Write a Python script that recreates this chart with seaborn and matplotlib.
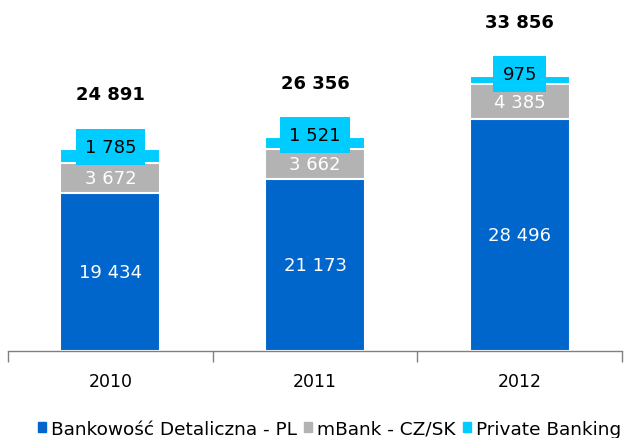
import numpy as np
import pandas as pd
import matplotlib
matplotlib.use('Agg')
import matplotlib.pyplot as plt
import seaborn as sns

# Data (mln zł)
years = ['2010', '2011', '2012']
retail_pl = [19434, 21173, 28496]
mbank_czsk = [3672, 3662, 4385]
private_banking = [1785, 1521, 975]

series_names = ['Bankowość Detaliczna - PL', 'mBank - CZ/SK', 'Private Banking']
colors = ['#0066CC', '#B3B3B3', '#00CCFF']

df = pd.DataFrame({'year': years, 'retail': retail_pl,
                   'mbank': mbank_czsk, 'pb': private_banking})
df['lvl1'] = df['retail']
df['lvl2'] = df['retail'] + df['mbank']
df['total'] = df['lvl2'] + df['pb']

sns.set_style('white')
plt.rcParams['font.family'] = ['DejaVu Sans']
plt.rcParams['text.color'] = 'black'
plt.rcParams['xtick.labelcolor'] = 'black'

fig = plt.figure(figsize=(6.28, 4.39), dpi=100)
ax = fig.add_axes([8 / 628, 87 / 439, 614 / 628, 352 / 439])

# stacked bars drawn back to front
for col, c in zip(['total', 'lvl2', 'lvl1'], colors[::-1]):
    sns.barplot(data=df, x='year', y=col, color=c, width=0.49,
                edgecolor='white', linewidth=1.5, saturation=1, ax=ax)

ax.set_xlim(-0.5, 2.5)
ax.set_ylim(0, 43300)
ax.set_xlabel('')
ax.set_ylabel('')
ax.set_yticks([])

for s in ['top', 'right', 'left']:
    ax.spines[s].set_visible(False)
ax.spines['bottom'].set_color('#808080')
ax.spines['bottom'].set_linewidth(1)

ax.set_xticks([-0.5, 0.5, 1.5, 2.5])
ax.set_xticklabels([])
ax.set_xticks([0, 1, 2], minor=True)
ax.set_xticklabels(years, minor=True, fontsize=12.5)
ax.tick_params(axis='x', which='major', bottom=True, direction='out',
               length=8, color='#808080', width=1)
ax.tick_params(axis='x', which='minor', bottom=True, length=0, pad=15,
               labelcolor='black')

for i in range(len(years)):
    r, m, p, t = retail_pl[i], mbank_czsk[i], private_banking[i], df['total'][i]
    ax.text(i, r / 2, f'{r:,}'.replace(',', ' '), ha='center', va='center',
            color='white', fontsize=13)
    ax.text(i, r + m / 2, f'{m:,}'.replace(',', ' '), ha='center', va='center',
            color='white', fontsize=13)
    ax.annotate(f'{p:,}'.replace(',', ' '), (i, t), xytext=(0, 1),
                textcoords='offset points', ha='center', va='center',
                color='black', fontsize=13,
                bbox=dict(boxstyle='square,pad=0.5', fc=colors[2], ec='none'))
    ax.annotate(f'{t:,}'.replace(',', ' '), (i, t), xytext=(0, 39),
                textcoords='offset points', ha='center', va='center',
                color='black', fontsize=13, fontweight='bold')

# unit label, cut off at the top like in the original
fig.text(17 / 628, 1.0 + 12 / 439, 'mln zł', ha='left', va='bottom',
         fontsize=13, fontweight='bold')

handles = [plt.Rectangle((0, 0), 1, 1, color=c) for c in colors]
fig.legend(handles, series_names, loc='lower center', ncol=3,
           bbox_to_anchor=(0.525, -0.037), frameon=False, fontsize=13.3,
           handlelength=0.4, handleheight=0.4, handletextpad=0.3,
           columnspacing=0.4)

fig.savefig('out.png', dpi=100)
